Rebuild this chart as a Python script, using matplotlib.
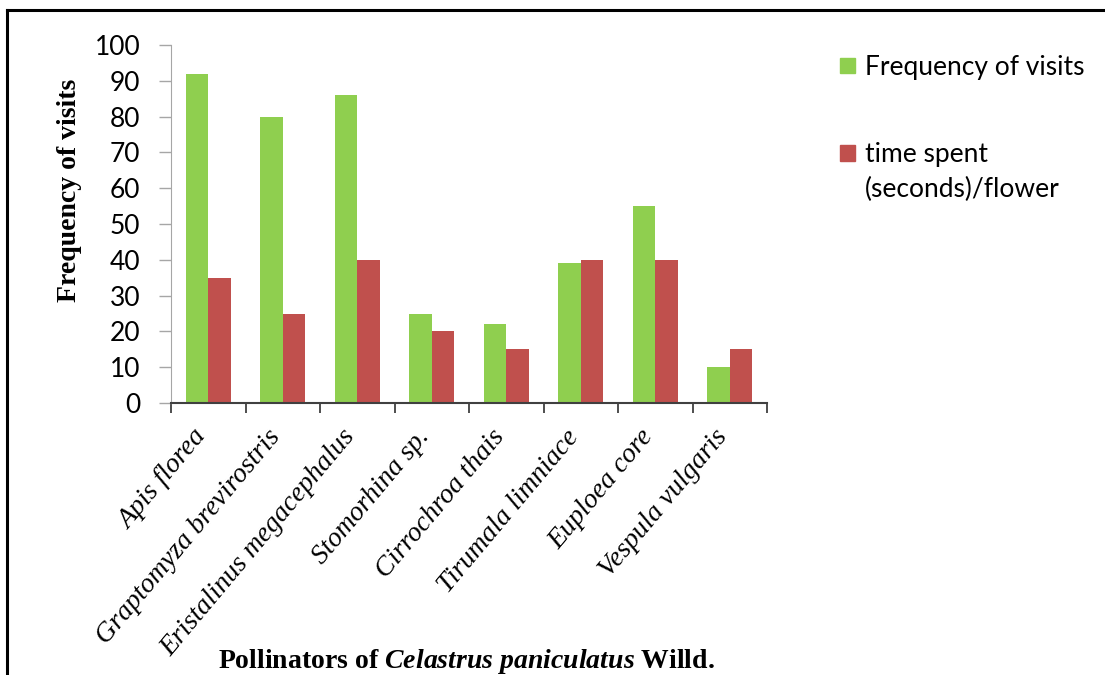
import matplotlib
matplotlib.use('Agg')
import matplotlib.pyplot as plt
import matplotlib.transforms as mtransforms
from matplotlib.lines import Line2D
from matplotlib.patches import Rectangle
import numpy as np

pollinators = ['Apis florea', 'Graptomyza brevirostris', 'Eristalinus megacephalus',
               'Stomorhina sp.', 'Cirrochroa thais', 'Tirumala limniace',
               'Euploea core', 'Vespula vulgaris']
freq_visits = [92, 80, 86, 25, 22, 39, 55, 10]
time_spent = [35, 25, 40, 20, 15, 40, 40, 15]
y_ticks = list(range(0, 101, 10))

green = '#8fcf4f'
red = '#c0504d'
sans = 'Lato'
serif = 'Liberation Serif'

plt.rcParams['mathtext.fontset'] = 'custom'
plt.rcParams['mathtext.it'] = 'Liberation Serif:italic:bold'
plt.rcParams['mathtext.rm'] = 'Liberation Serif:bold'

W, H = 1105, 675
fig = plt.figure(figsize=(W / 100, H / 100), dpi=100)
ax = fig.add_axes([171 / W, 1 - 403 / H, (767 - 171) / W, (403 - 45) / H])

x = np.arange(len(pollinators))
w = 0.3
ax.bar(x - w / 2, freq_visits, width=w, color=green)
ax.bar(x + w / 2, time_spent, width=w, color=red)

ax.set_xlim(-0.5, len(pollinators) - 0.5)
ax.set_ylim(0, 100)
ax.set_yticks(y_ticks)
ax.set_yticklabels([str(v) for v in y_ticks], fontfamily=sans, fontsize=19)
ax.tick_params(axis='y', length=9, width=1, color='#a6a6a6', pad=13)

ax.set_xticks(x)
ax.set_xticklabels(pollinators, rotation=50, ha='right', va='top', rotation_mode='anchor',
                   fontfamily=serif, fontstyle='italic', fontsize=20)
ax.tick_params(axis='x', which='major', length=0, pad=10)
ax.set_xticks(np.arange(-0.5, len(pollinators)), minor=True)
ax.tick_params(axis='x', which='minor', length=7, width=1.3, color='#404040')
# nudge the slanted labels so their ends sit under the group centres
shift = mtransforms.ScaledTranslation(-0.16, -0.08, fig.dpi_scale_trans)
for lab in ax.get_xticklabels():
    lab.set_transform(lab.get_transform() + shift)

for s in ['top', 'right']:
    ax.spines[s].set_visible(False)
ax.spines['left'].set_color('#a6a6a6')
ax.spines['bottom'].set_color('#404040')
ax.spines['bottom'].set_linewidth(1.5)

fig.text(70 / W, 1 - 190 / H, 'Frequency of visits', rotation=90, ha='center', va='center',
         fontfamily=serif, fontweight='bold', fontsize=20)
fig.text(466 / W, 7 / H, r'Pollinators of $\it{Celastrus\ paniculatus}$ Willd.',
         ha='center', va='baseline', fontfamily=serif, fontweight='bold', fontsize=20)

# legend drawn by hand so the red box sits on the first line of its label
fig.add_artist(Rectangle((840 / W, 1 - 73 / H), 15 / W, 15 / H, color=green))
fig.text(865 / W, 1 - 75 / H, 'Frequency of visits', ha='left', va='baseline',
         fontfamily=sans, fontsize=19)
fig.add_artist(Rectangle((840 / W, 1 - 161 / H), 15 / W, 16 / H, color=red))
fig.text(865 / W, 1 - 162 / H, 'time spent', ha='left', va='baseline',
         fontfamily=sans, fontsize=19)
fig.text(865 / W, 1 - 197 / H, '(seconds)/flower', ha='left', va='baseline',
         fontfamily=sans, fontsize=19)

fig.add_artist(Line2D([7 / W, 1], [1 - 10 / H, 1 - 10 / H], color='black', lw=2.2))
fig.add_artist(Line2D([7 / W, 7 / W], [0, 1 - 10 / H], color='black', lw=2.2))

fig.savefig('out.png', dpi=100)
